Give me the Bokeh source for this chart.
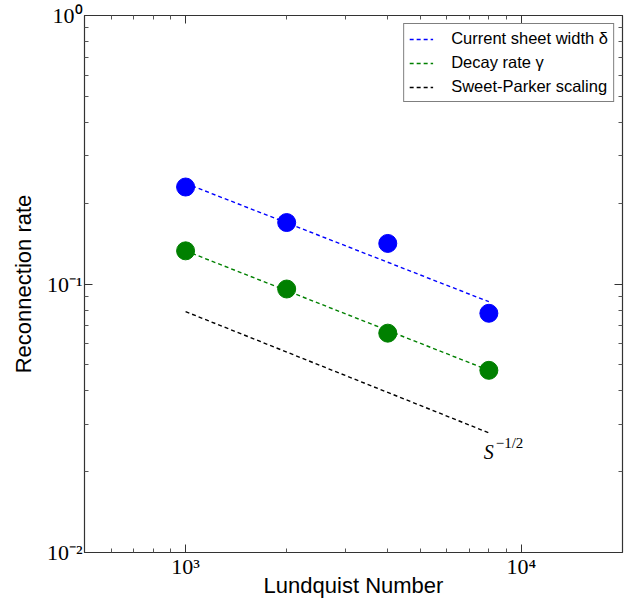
from bokeh.plotting import figure
from bokeh.models import FixedTicker, LogAxis, Range1d
from bokeh.embed import file_html
from bokeh.resources import INLINE
from bokeh.core.properties import value

# ---- data ----
lundquist = [1000, 2000, 4000, 8000]
sheet_width = [0.2297, 0.1694, 0.1416, 0.0778]
decay_rate = [0.1329, 0.0958, 0.0656, 0.0477]

fit_x = [1000, 8000]
fit_sheet_width = [0.237, 0.0859]
fit_decay_rate = [0.1329, 0.0477]
sweet_parker = [0.0789, 0.0279]

sp_label_x = [7720]
sp_label_y = [0.0236]

x_ticks = [1000, 10000]
x_tick_labels = ["10\u00b3", "10\u2074"]
x_minor = [600, 700, 800, 900, 2000, 3000, 4000, 5000, 6000, 7000, 8000, 9000]
y_ticks = [0.01, 0.1, 1.0]
y_tick_labels = ["10\u207b\u00b2", "10\u207b\u00b9", "10\u2070"]
y_minor = [0.02, 0.03, 0.04, 0.05, 0.06, 0.07, 0.08, 0.09,
           0.2, 0.3, 0.4, 0.5, 0.6, 0.7, 0.8, 0.9]

SANS = "Liberation Sans"
SERIF = "Liberation Serif"

p = figure(width=632, height=600, x_axis_type="log", y_axis_type="log",
           x_range=Range1d(500, 20000), y_range=Range1d(0.01, 1.0),
           output_backend="svg", toolbar_location=None,
           min_border_left=84, min_border_right=10,
           min_border_top=15, min_border_bottom=47,
           x_axis_label="Lundquist Number", y_axis_label="Reconnection rate")

p.grid.visible = False
p.outline_line_color = "#333333"
p.outline_line_width = 1.2
p.background_fill_color = "white"
p.border_fill_color = "white"

xt = FixedTicker(ticks=x_ticks, minor_ticks=x_minor)
yt = FixedTicker(ticks=y_ticks, minor_ticks=y_minor)

p.xaxis.ticker = xt
p.yaxis.ticker = yt
p.xaxis.major_label_overrides = dict(zip(x_ticks, x_tick_labels))
p.yaxis.major_label_overrides = dict(zip(y_ticks, y_tick_labels))

for ax in (p.xaxis[0], p.yaxis[0]):
    ax.axis_line_color = None
    ax.major_tick_in = 8
    ax.major_tick_out = 0
    ax.minor_tick_in = 4
    ax.minor_tick_out = 0
    ax.major_tick_line_color = "#333333"
    ax.minor_tick_line_color = "#555555"
    ax.major_label_text_font = SERIF
    ax.major_label_text_font_size = "22px"
    ax.major_label_text_color = "black"
    ax.axis_label_text_font = SANS
    ax.axis_label_text_font_size = "22px"
    ax.axis_label_text_font_style = "normal"
    ax.axis_label_text_color = "black"

p.yaxis.major_label_standoff = 2
p.yaxis.axis_label_standoff = 8
p.xaxis.major_label_standoff = 1
p.xaxis.axis_label_standoff = -9

# mirrored axes (ticks only) on top and right
top = LogAxis(ticker=FixedTicker(ticks=x_ticks, minor_ticks=x_minor))
right = LogAxis(ticker=FixedTicker(ticks=y_ticks, minor_ticks=y_minor))
for ax in (top, right):
    ax.axis_line_color = None
    ax.major_tick_in = 8
    ax.major_tick_out = 0
    ax.minor_tick_in = 4
    ax.minor_tick_out = 0
    ax.major_tick_line_color = "#333333"
    ax.minor_tick_line_color = "#555555"
    ax.major_label_text_font_size = "0px"
    ax.major_label_standoff = 0
    ax.major_label_text_alpha = 0
p.add_layout(top, "above")
p.add_layout(right, "right")

# fit lines
p.line(fit_x, fit_sheet_width, line_color="#0000ff", line_width=1.4,
       line_dash="4 3", legend_label="Current sheet width \u03b4")
p.line(fit_x, fit_decay_rate, line_color="#008000", line_width=1.4,
       line_dash="4 3", legend_label="Decay rate \u03b3")
p.line(fit_x, sweet_parker, line_color="black", line_width=1.4,
       line_dash="4 3", legend_label="Sweet-Parker scaling")

# data points
p.scatter(lundquist, sheet_width, size=18, fill_color="#0000ff", line_color="#0000ff")
p.scatter(lundquist, decay_rate, size=18, fill_color="#008000", line_color="#008000")

# S^{-1/2} annotation
p.text(sp_label_x, sp_label_y, text=["S"], text_font=value(SERIF),
       text_font_style="italic", text_font_size="20px",
       text_align="left", text_baseline="alphabetic", text_color="black")
p.text(sp_label_x, sp_label_y, text=["\u22121/2"], text_font=value(SERIF),
       text_font_size="15px", x_offset=12, y_offset=-9,
       text_align="left", text_baseline="alphabetic", text_color="black")

leg = p.legend[0]
leg.location = "top_right"
leg.margin = 8
leg.padding = 5
leg.spacing = 5
leg.label_height = 16
leg.glyph_height = 16
leg.glyph_width = 24
leg.label_standoff = 18
leg.label_text_font = SANS
leg.label_text_font_size = "16.5px"
leg.label_text_color = "black"
leg.border_line_color = "black"
leg.border_line_width = 1
leg.background_fill_alpha = 1.0

open("out.html", "w").write(file_html(p, INLINE))
